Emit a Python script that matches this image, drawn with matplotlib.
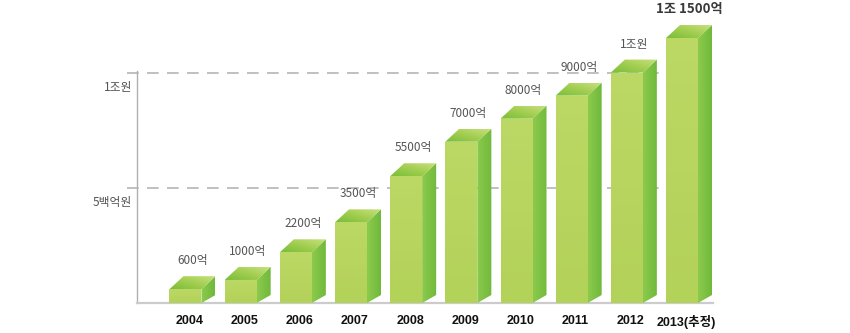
import numpy as np
import matplotlib
matplotlib.use("Agg")
import matplotlib.pyplot as plt
from matplotlib.patches import Polygon
from matplotlib.colors import LinearSegmentedColormap
from matplotlib.transforms import offset_copy, blended_transform_factory

# Market size by year (unit: 100 million won, 억 원)
years = ['2004', '2005', '2006', '2007', '2008', '2009', '2010', '2011', '2012', '2013(추정)']
values = [600, 1000, 2200, 3500, 5500, 7000, 8000, 9000, 10000, 11500]
value_labels = ['600억', '1000억', '2200억', '3500억', '5500억', '7000억', '8000억',
                '9000억', '1조원', '1조 1500억']
ref_levels = [10000, 5000]
ref_labels = ['1조원', '5백억원']

KR = ['Noto Sans CJK KR', 'DejaVu Sans']
BOLD_LATIN = ['Liberation Sans', 'Noto Sans CJK KR']

W, H = 850, 333
fig = plt.figure(figsize=(W / 100, H / 100), dpi=100)
ax_w, ax_h = 578, 303
ax = fig.add_axes([137 / W, 30 / H, ax_w / W, ax_h / H])
xlim = (-0.879, 9.598)
ylim = (0, 13150)
ax.axis('off')

x = np.arange(len(years))

# conversion of pixel sizes to data units for the pseudo-3D extrusion
ux = (xlim[1] - xlim[0]) / ax_w
uy = (ylim[1] - ylim[0]) / ax_h
half_w = 16 * ux
depth_x = 14 * ux
depth_y = 13 * uy
base_rise = 8 * uy


def shaded_face(verts, colors, mode, z):
    poly = Polygon(verts, closed=True, facecolor='none', edgecolor='none')
    ax.add_patch(poly)
    xs = [v[0] for v in verts]
    ys = [v[1] for v in verts]
    cmap = LinearSegmentedColormap.from_list('face', colors)
    n = 64
    if mode == 'h':
        grad = np.tile(np.linspace(0, 1, n), (n, 1))
    elif mode == 'v':
        grad = np.tile(np.linspace(0, 1, n).reshape(-1, 1), (1, n))
    else:
        gx, gy = np.meshgrid(np.linspace(0, 1, n), np.linspace(0, 1, n))
        grad = (gx + gy) / 2
    im = ax.imshow(grad, cmap=cmap, extent=(min(xs), max(xs), min(ys), max(ys)),
                   origin='lower', aspect='auto', interpolation='bilinear', zorder=z)
    im.set_clip_path(poly)


# reference dashed levels
trans_blend = blended_transform_factory(ax.transAxes, ax.transData)
for lvl, lab in zip(ref_levels, ref_labels):
    ax.plot([-10 / ax_w, 1 - 3 / ax_w], [lvl, lvl], transform=trans_blend,
            color='#b5b5b5', lw=1.2, dashes=(7, 5), clip_on=False, zorder=1)
    ax.text(-5 / ax_w, lvl, lab, transform=offset_copy(trans_blend, fig, y=-15, units='dots'),
            ha='right', va='center', fontsize=8.5, color='#555555', family=KR)

# axis lines
ax.plot([0, 0], [0, ref_levels[0] + 2 * uy], transform=trans_blend,
        color='#b0b0b0', lw=1.0, clip_on=False, zorder=2)
ax.plot([0, 1 - 2 / ax_w], [0, 0], transform=trans_blend,
        color='#cccccc', lw=1.6, clip_on=False, zorder=2)

# bars
for i, (xi, v) in enumerate(zip(x, values)):
    xl, xr = xi - half_w, xi + half_w
    z = 3 + i * 0.01
    # side face
    shaded_face([(xr, 0), (xr + depth_x, base_rise), (xr + depth_x, v + depth_y), (xr, v)],
                ['#8cca4c', '#70b93c'], 'h', z)
    # top face
    shaded_face([(xl, v), (xr, v), (xr + depth_x, v + depth_y), (xl + depth_x, v + depth_y)],
                ['#78bd38', '#a2ce50', '#c8e07e'], 'd', z)
    # front face
    shaded_face([(xl, 0), (xr, 0), (xr, v), (xl, v)],
                ['#b3d259', '#bcd865'], 'v', z + 0.005)

    last = i == len(values) - 1
    ax.text(xi + depth_x / 2, v + depth_y, value_labels[i],
            transform=offset_copy(ax.transData, fig, y=9, units='dots'),
            ha='center', va='bottom', fontsize=9.5 if last else 8.5,
            color='#3a3a3a' if last else '#555555',
            fontweight='bold' if last else 'normal', family=KR, zorder=6)

    ax.text(xi + 4 * ux, 0, years[i], transform=offset_copy(ax.transData, fig, y=-12, units='dots'),
            ha='center', va='top', fontsize=9, fontweight='bold', color='#111111',
            family=BOLD_LATIN)

ax.set_xlim(*xlim)
ax.set_ylim(*ylim)

fig.savefig('out.png', dpi=100)
